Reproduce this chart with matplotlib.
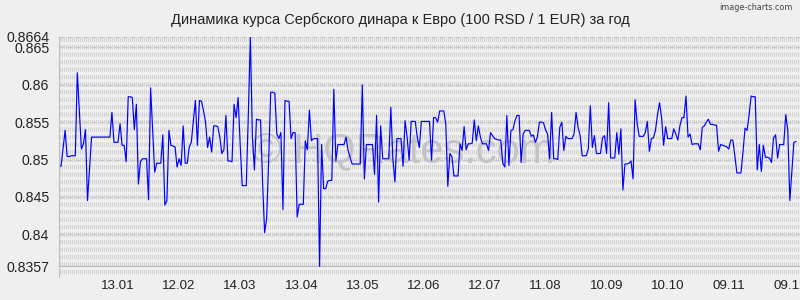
import numpy as np
import matplotlib
matplotlib.use("Agg")
import matplotlib.pyplot as plt

plt.rcParams['font.family'] = ['Liberation Sans', 'DejaVu Sans']
plt.rcParams['lines.scale_dashes'] = False

title = "Динамика курса Сербского динара к Евро (100 RSD / 1 EUR) за год"

# daily rate values (100 RSD / 1 EUR)
rates = [
    0.8491, 0.8491, 0.8515, 0.8539, 0.8504, 0.8504, 0.8505, 0.8505, 0.8505, 0.8616,
    0.8565, 0.8514, 0.8521, 0.8540, 0.8445, 0.8488, 0.8530, 0.8530, 0.8530, 0.8530,
    0.8530, 0.8530, 0.8530, 0.8530, 0.8530, 0.8530, 0.8563, 0.8523, 0.8523, 0.8523,
    0.8548, 0.8519, 0.8519, 0.8497, 0.8584, 0.8584, 0.8583, 0.8540, 0.8574, 0.8467,
    0.8497, 0.8501, 0.8501, 0.8501, 0.8446, 0.8596, 0.8540, 0.8483, 0.8495, 0.8495,
    0.8495, 0.8533, 0.8439, 0.8445, 0.8539, 0.8519, 0.8518, 0.8517, 0.8490, 0.8501,
    0.8492, 0.8545, 0.8495, 0.8495, 0.8517, 0.8523, 0.8552, 0.8579, 0.8519, 0.8579,
    0.8578, 0.8565, 0.8550, 0.8516, 0.8530, 0.8510, 0.8545, 0.8545, 0.8544, 0.8530,
    0.8508, 0.8513, 0.8559, 0.8498, 0.8498, 0.8497, 0.8574, 0.8556, 0.8583, 0.8520,
    0.8465, 0.8465, 0.8465, 0.8560, 0.8664, 0.8530, 0.8486, 0.8554, 0.8553, 0.8553,
    0.8470, 0.8402, 0.8421, 0.8500, 0.8590, 0.8590, 0.8589, 0.8534, 0.8528, 0.8536,
    0.8433, 0.8579, 0.8578, 0.8578, 0.8528, 0.8536, 0.8536, 0.8423, 0.8440, 0.8440,
    0.8440, 0.8525, 0.8513, 0.8566, 0.8525, 0.8528, 0.8528, 0.8528, 0.8357, 0.8520,
    0.8461, 0.8461, 0.8471, 0.8472, 0.8472, 0.8594, 0.8498, 0.8520, 0.8520, 0.8520,
    0.8520, 0.8530, 0.8512, 0.8503, 0.8494, 0.8494, 0.8494, 0.8494, 0.8494, 0.8600,
    0.8474, 0.8520, 0.8520, 0.8520, 0.8520, 0.8480, 0.8559, 0.8443, 0.8545, 0.8501,
    0.8501, 0.8501, 0.8501, 0.8570, 0.8501, 0.8470, 0.8528, 0.8528, 0.8528, 0.8491,
    0.8552, 0.8530, 0.8499, 0.8551, 0.8551, 0.8551, 0.8530, 0.8516, 0.8551, 0.8551,
    0.8551, 0.8551, 0.8551, 0.8499, 0.8556, 0.8556, 0.8550, 0.8565, 0.8565, 0.8565,
    0.8548, 0.8464, 0.8508, 0.8504, 0.8478, 0.8478, 0.8478, 0.8521, 0.8512, 0.8544,
    0.8513, 0.8521, 0.8521, 0.8522, 0.8553, 0.8525, 0.8545, 0.8530, 0.8521, 0.8521,
    0.8521, 0.8512, 0.8536, 0.8532, 0.8528, 0.8527, 0.8526, 0.8526, 0.8495, 0.8490,
    0.8559, 0.8492, 0.8539, 0.8540, 0.8552, 0.8559, 0.8559, 0.8496, 0.8534, 0.8539,
    0.8539, 0.8539, 0.8531, 0.8533, 0.8523, 0.8530, 0.8550, 0.8550, 0.8549, 0.8540,
    0.8534, 0.8501, 0.8563, 0.8501, 0.8501, 0.8500, 0.8543, 0.8550, 0.8512, 0.8531,
    0.8528, 0.8528, 0.8528, 0.8534, 0.8563, 0.8543, 0.8532, 0.8505, 0.8505, 0.8505,
    0.8514, 0.8572, 0.8516, 0.8532, 0.8508, 0.8508, 0.8508, 0.8529, 0.8532, 0.8508,
    0.8576, 0.8502, 0.8502, 0.8502, 0.8536, 0.8507, 0.8541, 0.8459, 0.8494, 0.8494,
    0.8495, 0.8498, 0.8474, 0.8580, 0.8548, 0.8531, 0.8531, 0.8531, 0.8536, 0.8551,
    0.8511, 0.8528, 0.8529, 0.8539, 0.8560, 0.8576, 0.8556, 0.8519, 0.8544, 0.8528,
    0.8528, 0.8528, 0.8541, 0.8534, 0.8526, 0.8545, 0.8556, 0.8556, 0.8585, 0.8530,
    0.8534, 0.8520, 0.8521, 0.8521, 0.8521, 0.8513, 0.8543, 0.8545, 0.8550, 0.8554,
    0.8547, 0.8547, 0.8546, 0.8546, 0.8511, 0.8520, 0.8519, 0.8518, 0.8517, 0.8514,
    0.8526, 0.8526, 0.8505, 0.8482, 0.8482, 0.8482, 0.8510, 0.8542, 0.8539, 0.8560,
    0.8585, 0.8584, 0.8584, 0.8486, 0.8520, 0.8484, 0.8519, 0.8503, 0.8503, 0.8502,
    0.8496, 0.8529, 0.8533, 0.8502, 0.8520, 0.8520, 0.8520, 0.8560, 0.8539, 0.8445,
    0.8485, 0.8523, 0.8524,
]

# date tick labels (every 30 days)
date_labels = ["13.01", "12.02", "14.03", "13.04", "13.05", "12.06",
               "12.07", "11.08", "10.09", "10.10", "09.11", "09.12"]
date_positions = [29, 59, 89, 119, 149, 179, 209, 239, 269, 299, 329, 359]

y_ticks = [0.8357, 0.84, 0.845, 0.85, 0.855, 0.86, 0.865, 0.8664]
y_tick_labels = ["0.8357", "0.84", "0.845", "0.85", "0.855", "0.86", "0.865", "0.8664"]

BG = "#efefef"
W, H = 800, 300
fig = plt.figure(figsize=(W / 100, H / 100), dpi=100, facecolor=BG)
ax_l, ax_r, ax_t, ax_b = 59, 800, 37, 277
ax = fig.add_axes([ax_l / W, 1 - ax_b / H, (ax_r - ax_l) / W, (ax_b - ax_t) / H])
ax.set_facecolor(BG)

x_max = 364
y_min, y_max = 0.83427, 0.8664
ax.set_xlim(0, x_max)
ax.set_ylim(y_min, y_max)

# dense background texture: short vertical dashes in rows
px_per_day = (ax_r - ax_l) / x_max
step = 2.0 / px_per_day
xs = np.arange(step * 0.5, x_max, step)
ax.vlines(xs, y_max, y_min, colors="#d2d2d2", linewidth=0.75,
          linestyles=[(0, (3.1, 2.3))], zorder=0.5)

# horizontal guide lines at the ticks
for v in y_ticks:
    if v == y_ticks[0]:
        ax.axhline(v, color="#b8b8b8", linewidth=0.8, zorder=0.8)
    else:
        ax.axhline(v, color="#c6c6c6", linewidth=0.8, linestyle=(0, (3.5, 2.2)), zorder=0.8)

# watermark
ax.text(0.464, 0.480, "© HQRates.com", transform=ax.transAxes, ha="center", va="baseline",
        fontsize=30, color="#c4c4c4", zorder=1)

ax.plot(np.arange(len(rates)), rates, color="#0000ff", linewidth=0.85, zorder=2)

ax.set_yticks(y_ticks)
ax.set_yticklabels(y_tick_labels)
ax.set_xticks(date_positions)
ax.set_xticklabels(date_labels)
ax.tick_params(axis="y", length=0, pad=7, labelsize=10.2, labelcolor="#222222")
ax.tick_params(axis="x", length=0, pad=2, labelsize=9.6, labelcolor="#222222")

for s in ["top", "right", "bottom"]:
    ax.spines[s].set_visible(False)
ax.spines["left"].set_color("#c0c0c0")
ax.spines["left"].set_linewidth(0.8)

fig.text(400 / W, 1 - 20 / H, title, ha="center", va="center", fontsize=10.5, color="#222222")
fig.text(793 / W, 1 - 7 / H, "image-charts.com", ha="right", va="center",
         fontsize=5.8, color="#444444", family="DejaVu Sans")

fig.savefig("out.png", dpi=100, facecolor=BG)
